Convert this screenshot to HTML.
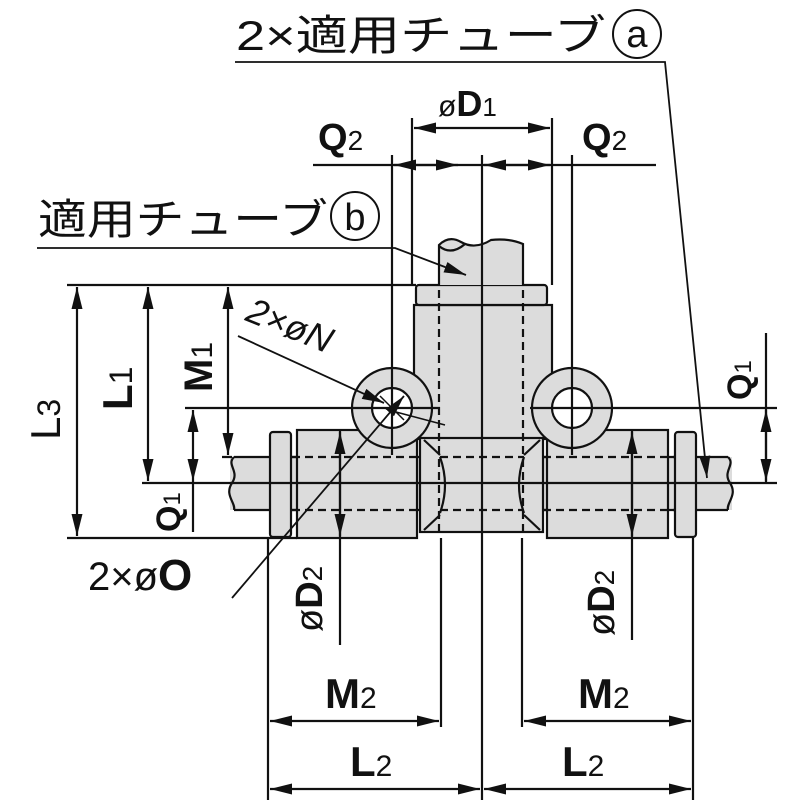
<!DOCTYPE html>
<html><head><meta charset="utf-8"><style>
html,body{margin:0;padding:0;background:#fff}
svg{display:block}
text{font-family:"Liberation Sans","Noto Sans CJK JP",sans-serif;fill:#111}
.b{font-weight:bold}
</style></head><body>
<svg width="800" height="800" viewBox="0 0 800 800" xmlns="http://www.w3.org/2000/svg">
<defs>
<marker id="as" viewBox="0 0 20 10" refX="20" refY="5" markerWidth="22" markerHeight="11" markerUnits="userSpaceOnUse" orient="auto-start-reverse"><path d="M0,0L20,5L0,10z" fill="#111"/></marker>
</defs>
<g stroke="#111" stroke-width="2.2" fill="none">
<rect x="230" y="457" width="502" height="53" fill="#dcdcdc" stroke="none"/>
<path d="M234,457 H728 M234,510 H728"/>
<path d="M234,457 c-8,8 6,14 -2,26 c-8,12 4,20 2,27" />
<path d="M728,457 c8,8 -6,14 2,26 c8,12 -4,20 -2,27" />
<rect x="297" y="430" width="120" height="108" fill="#dcdcdc"/>
<rect x="270" y="432" width="21" height="105" rx="3" fill="#dcdcdc"/>
<rect x="547" y="430" width="121" height="108" fill="#dcdcdc"/>
<rect x="675" y="432" width="21" height="105" rx="3" fill="#dcdcdc"/>
<rect x="414" y="305" width="138" height="134" fill="#dcdcdc"/>
<rect x="420" y="438" width="123" height="94" fill="#dcdcdc"/>
<path d="M424,440 L440,455 M424,530 L440,515 M540,440 L524,455 M540,530 L524,515"/>
<path d="M440,457 q10,28 0,56 M524,457 q-10,28 0,56"/>
<rect x="416" y="285" width="131" height="20" rx="3" fill="#dcdcdc"/>
<path d="M439,285 V245 q10,-10 22,-3 q14,8 30,-2 q18,-2 32,4 V285" fill="#dcdcdc"/>
<path d="M439,246 q12,10 26,-2"/>
<g stroke-dasharray="8,5">
<path d="M439,290 V532 M523,290 V532"/>
<path d="M292,457 H420 M292,510 H420 M543,457 H676 M543,510 H676 M440,457 H524 M440,510 H524"/>
</g>
<circle cx="392" cy="408" r="40" fill="#dcdcdc"/>
<circle cx="392" cy="408" r="20" fill="#fff"/>
<circle cx="572" cy="408" r="40" fill="#dcdcdc"/>
<circle cx="572" cy="408" r="20" fill="#fff"/>
<path d="M67,285 H416 M67,538 H297 M142,483 H777 M222,457 H232 M185,408 H440 M530,408 H777"/>
<path d="M392,155 V455 M572,155 V455 M412,118 V285 M552,118 V285 M482,155 V800"/>
<path d="M268,538 V800 M693,538 V800 M441,538 V727 M522,538 V727 M340,430 V645 M632,430 V640"/>
<path d="M313,165 H656"/>
<path d="M77,287 V536" marker-start="url(#as)" marker-end="url(#as)"/>
<path d="M148,287 V481" marker-start="url(#as)" marker-end="url(#as)"/>
<path d="M228,287 V455" marker-start="url(#as)" marker-end="url(#as)"/>
<path d="M193,410 V481" marker-start="url(#as)" marker-end="url(#as)"/>
<path d="M193,481 V532"/>
<path d="M766,333 V483"/>
<path d="M766,410 V481" marker-start="url(#as)" marker-end="url(#as)"/>
<path d="M414,128 H550" marker-start="url(#as)" marker-end="url(#as)"/>
<path d="M394,165 H458" marker-start="url(#as)" marker-end="url(#as)"/>
<path d="M484,165 H550" marker-start="url(#as)" marker-end="url(#as)"/>
<path d="M340,432 V536" marker-start="url(#as)" marker-end="url(#as)"/>
<path d="M632,432 V536" marker-start="url(#as)" marker-end="url(#as)"/>
<path d="M270,721 H439" marker-start="url(#as)" marker-end="url(#as)"/>
<path d="M524,721 H691" marker-start="url(#as)" marker-end="url(#as)"/>
<path d="M270,789 H480" marker-start="url(#as)" marker-end="url(#as)"/>
<path d="M484,789 H691" marker-start="url(#as)" marker-end="url(#as)"/>
<path d="M235,62 H665 L707,478" marker-end="url(#as)" stroke-width="1.8"/>
<path d="M37,248 H395 L466,275" marker-end="url(#as)" stroke-width="1.8"/>
<path d="M238,336 L384,403" marker-end="url(#as)" stroke-width="1.8"/>
<path d="M232,598 L404,396" marker-end="url(#as)" stroke-width="1.8"/>
<path d="M380,396 L404,420 M396,412 L445,425" stroke-width="1.5"/>
<circle cx="637" cy="34" r="24" stroke-width="2"/>
<circle cx="355" cy="216" r="24" stroke-width="2"/>
</g>
<text x="236" y="50" font-size="42" textLength="370" lengthAdjust="spacingAndGlyphs">2×適用チューブ</text>
<text x="637" y="47" font-size="38" text-anchor="middle">a</text>
<text x="38" y="234" font-size="42" textLength="290" lengthAdjust="spacingAndGlyphs">適用チューブ</text>
<text x="355" y="230" font-size="38" text-anchor="middle">b</text>
<text x="438" y="116" font-size="36"><tspan font-size="30">ø</tspan><tspan class="b">D</tspan><tspan font-size="26">1</tspan></text>
<text x="318" y="150" font-size="38" class="b">Q<tspan font-size="28" font-weight="normal">2</tspan></text>
<text x="582" y="150" font-size="38" class="b">Q<tspan font-size="28" font-weight="normal">2</tspan></text>
<text x="0" y="0" font-size="42" transform="translate(60,440) rotate(-90)">L<tspan font-size="32">3</tspan></text>
<text x="0" y="0" font-size="42" class="b" transform="translate(132,410) rotate(-90)">L<tspan font-size="32" font-weight="normal">1</tspan></text>
<text x="0" y="0" font-size="40" class="b" transform="translate(212,392) rotate(-90)">M<tspan font-size="30" font-weight="normal">1</tspan></text>
<text x="0" y="0" font-size="34" class="b" transform="translate(180,532) rotate(-90)">Q<tspan font-size="24" font-weight="normal">1</tspan></text>
<text x="0" y="0" font-size="34" class="b" transform="translate(751,400) rotate(-90)">Q<tspan font-size="24" font-weight="normal">1</tspan></text>
<text x="0" y="0" font-size="36" font-style="italic" transform="translate(244,320) rotate(22)">2×øN</text>
<text x="88" y="590" font-size="40">2×ø<tspan class="b" font-size="44">O</tspan></text>
<text x="0" y="0" font-size="38" transform="translate(322,632) rotate(-90)">ø<tspan class="b">D</tspan><tspan font-size="28">2</tspan></text>
<text x="0" y="0" font-size="38" transform="translate(614,636) rotate(-90)">ø<tspan class="b">D</tspan><tspan font-size="28">2</tspan></text>
<text x="325" y="708" font-size="42" class="b">M<tspan font-size="30" font-weight="normal">2</tspan></text>
<text x="578" y="708" font-size="42" class="b">M<tspan font-size="30" font-weight="normal">2</tspan></text>
<text x="350" y="776" font-size="42" class="b">L<tspan font-size="30" font-weight="normal">2</tspan></text>
<text x="562" y="776" font-size="42" class="b">L<tspan font-size="30" font-weight="normal">2</tspan></text>
</svg>
</body></html>
